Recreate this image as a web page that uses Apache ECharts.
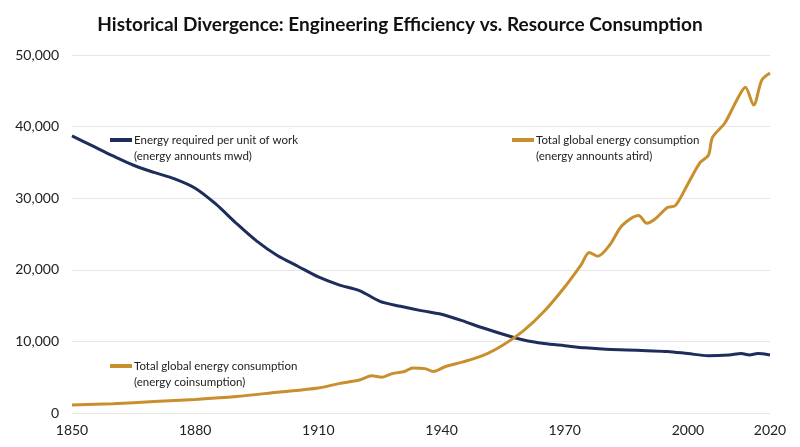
<!DOCTYPE html>
<html>
<head>
<meta charset="utf-8">
<script src="https://cdn.jsdelivr.net/npm/echarts@6/dist/echarts.min.js"></script>
<style>html,body{margin:0;padding:0;background:#fff}#chartmain{width:800px;height:447px}</style>
</head>
<body>
<div id="chartmain"></div>
<script>
var xTicks = [1850, 1880, 1910, 1940, 1970, 2000, 2020];
var workYears = [1850,1855,1860,1865,1870,1875,1880,1885,1890,1895,1900,1905,1910,1915,1920,1925,1930,1935,1938,1940,1945,1950,1955,1960,1965,1970,1975,1980,1985,1990,1995,2000,2005,2010,2013,2015,2017,2020];
var workValues = [38700,37300,35900,34600,33600,32700,31400,29200,26500,24000,22000,20500,19000,17900,17100,15600,14900,14300,14000,13800,12900,11900,11000,10200,9700,9400,9100,8900,8800,8700,8600,8300,8000,8100,8300,8100,8300,8100];
var useYears = [1850,1860,1870,1880,1890,1900,1910,1915,1920,1923,1925.5,1928,1931,1933,1936,1938,1941,1945,1950,1955,1960,1965,1970,1974,1976,1978,1981,1984,1988,1990,1992,1995,1997,2000,2003,2005,2006,2009,2012,2014,2016,2018,2020];
var useValues = [1100,1300,1600,1900,2300,2900,3500,4100,4600,5200,5000,5500,5800,6300,6200,5800,6500,7100,8000,9500,11500,14200,17600,20700,22400,21900,23500,26200,27600,26500,27100,28700,29000,32000,35000,36000,38500,40500,43800,45500,43000,46500,47500];
var blue = '#1f2d5c', gold = '#c98f2e';

function pairs(xs, ys) {
	var out = [];
	for (var i = 0; i < xs.length; i++) out.push([xs[i], ys[i]]);
	return out;
}
function legendItem(x, y, color, l1, l2) {
	return [
		{ type: 'line', shape: { x1: x, y1: y, x2: x + 22, y2: y }, style: { stroke: color, lineWidth: 4 } },
		{ type: 'text', left: x + 24, top: y - 8, style: { text: l1 + '\n' + l2, fill: '#222', font: '11.5px Lato', lineHeight: 16 } }
	];
}

var option = {
	title: { text: 'Historical Divergence: Engineering Efficiency vs. Resource Consumption', left: 'center', top: 10,
		textStyle: { fontFamily: 'Lato', fontWeight: 'bold', fontSize: 19, color: '#111' } },
	grid: { left: 72, right: 30, top: 55, bottom: 34 },
	xAxis: { type: 'value', min: 1850, max: 2020, interval: 10,
		axisLine: { show: false }, axisTick: { show: false }, splitLine: { show: false },
		axisLabel: { fontFamily: 'Lato', fontSize: 14, color: '#222', margin: 10,
			formatter: function (v) { return xTicks.indexOf(v) >= 0 ? String(v) : ''; } } },
	yAxis: { type: 'value', min: 0, max: 50000, interval: 10000,
		axisLine: { show: false }, axisTick: { show: false },
		splitLine: { lineStyle: { color: '#e6e6e6' } },
		axisLabel: { fontFamily: 'Lato', fontSize: 14, color: '#222', margin: 13,
			formatter: function (v) { return v.toLocaleString('en-US'); } } },
	series: [
		{ type: 'line', data: pairs(workYears, workValues), smooth: 0.3, symbol: 'none', lineStyle: { color: blue, width: 3 } },
		{ type: 'line', data: pairs(useYears, useValues), smooth: 0.3, symbol: 'none', lineStyle: { color: gold, width: 3 } }
	],
	graphic: [].concat(
		legendItem(110, 140, blue, 'Energy required per unit of work', '(energy announts mwd)'),
		legendItem(512, 140, gold, 'Total global energy consumption', '(energy announts atird)'),
		legendItem(110, 366, gold, 'Total global energy consumption', '(energy coinsumption)')
	)
};
var myChart = echarts.init(document.getElementById('chartmain'));
myChart.setOption(option);
</script>
</body>
</html>
